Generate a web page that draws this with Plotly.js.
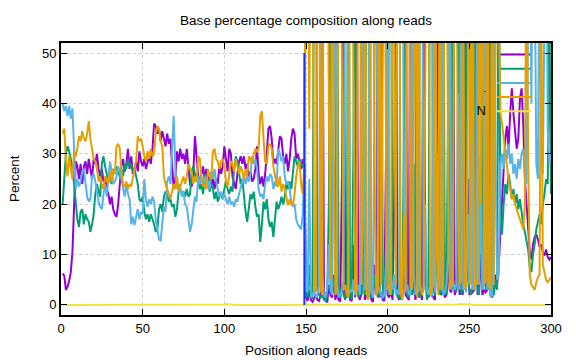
<!DOCTYPE html>
<html><head><meta charset="utf-8">
<script src="https://cdn.plot.ly/plotly-3.0.1.min.js"></script>
<style>html,body{margin:0;padding:0;background:#fff}#chart{width:576px;height:360px}</style>
</head><body><div id="chart"></div>
<script>
const seriesNames = ['A', 'C', 'G', 'T', 'N'];
const seriesColors = ['#9400d3', '#009e73', '#56b4e9', '#e69f00', '#f0e442'];

const A = [
6.2,5.8,3.0,3.6,4.8,6.5,10.5,21,28.5,27.5,
25,28,24,27.5,28.5,26,29,27,25,29,
28,30,27,25.5,27,24.5,25,23,22,20,
21.5,19,18,17.5,20,24,27.5,29,26.5,28,
31,27,29.5,26,27,28.5,26.5,30.5,28.5,27.5,
29,27,28.5,29.5,28,31,36,35.5,34,35,
32.5,34.5,33,31.5,34,32,33,27,23,25,
30.5,28.5,31,29,30,28,31,27.5,24,23.5,
26,33.5,29.5,25.5,24.5,26,27.5,25,27,24.5,
26,23.5,25.5,23,25,24,28,26,27.5,31.5,
29,26.5,31,30,25.5,24,23,26,28.5,29.5,
28,29.5,27,28,25.5,26.5,24.5,25,27,31.5,
26,24,25.5,23.5,26,30,35,35.5,33,28,
29,28,30.5,33.5,33,29.5,28,30,26.5,29,
33,35,34,29,30,28.5,27,29,27.5,
1.5,0.8,3,1,0.6,1.5,2,1,0.8,2,
80,3,1,0.5,4,2,1.5,6,1,2.5,
1,0.7,25,88,2,1.5,3,1,0.8,12,
1.5,75,2,1,2.5,18,1,2,1.5,3,
1,0.6,8,2,85,1.5,2.5,1,0.8,30,
2,1.5,3,1,20,82,2,1,3,1.5,
10,2,1.5,1,86,2,5,1,2.5,1.5,
3,1,80,12,2,1.5,3,2,1.5,1,
22,84,2.5,2,3,1.5,2,8,3,2.5,
78,2,3,15,2,3,2,82,3,25,
2,3,2.5,3,76,2,3,10,2,3,
2.5,3,70,2,1.5,3,6,4,8,15,
21,28,33,35.5,31,38,43,38,34,31,
33,41,43,36,25,20,14,10.5,9,12,
13.5,14,13,11.5,12,10.5,9.8,11,9.5,9,9.5
];

const C = [
20,26,30,31.5,30.5,29,27,24,21,17,
15.5,18.5,19,16,18,17,16.5,14.5,16,18,
22,24,22.5,21.5,28,29.5,27.5,26,24.5,25.5,
24,27,26,27.5,26.5,25.5,27,25.5,28,27,
29,27.5,28,26.5,27,25.5,24,21,20.5,21.5,
18.5,17,18,16.5,18,17,16,14.5,15,19,
20,18.5,21.5,22.5,22,20.5,21,19.5,20,17.5,
19,22.5,23,22,22.5,21.5,23,21.5,22,26.5,
27.5,26,24.5,25.5,23,24,22,26,23.5,25,
22.5,24,23,21,22.5,20.5,21.5,22,21,23,
24.5,23,22,23.5,22.5,27,29.5,28.5,26,24,
25,21,18.5,16.5,19,22,21,22.5,19.5,17.5,
18,12.5,16,20.5,19,21,17,15.5,16.5,13.5,
17,20.5,19,20,21.5,20,21.5,24,23,24.5,
23,26.5,29.5,28.5,27.5,29,28,27.5,28,
2,1.5,8,2,1.2,88,94,3,2,1.5,
2,1,0.8,2,20,90,3,5,2.5,86,
2,1.5,4,2,1,3,90,2,1,30,
92,4,1.5,3,2,10,2,86,95,2,
1.5,2,6,3,1.5,2,88,3,1.5,12,
2.5,90,84,2,5,3,1.5,2,1,3,
35,92,2,1.5,3,2,28,3,90,2,
1.5,2.5,4,8,1,2.5,88,93,3,2,
15,3,2,4,87,3,2,40,4,89,
3,4,2.5,10,90,2,4,3,90,6,
3,2,3.5,88,4,3,2,30,3,85,
3,4,3,88,3,2,5,3,80,18,
14,20,24,22,26,24,21,23,20,22,
19,21,18,16,14.5,13,11,7.5,6.5,10,
12,15,16.5,18,16,20,22,25,24,60,22
];

const G = [
40,38.5,39.5,37.5,39.5,37,39,29,23,25,
23.5,24.5,26.5,27,24,21.5,20.5,21,25.5,26,
24.5,22,20.5,19.5,19,22,24,21.5,24.5,28.5,
26.5,24,24.5,25.5,27.5,26.5,25,23,21.5,24,
22,21,16,17.5,15.8,17.5,19,17,18.5,18,
25,21,19.5,21,20,21.5,20.5,17,14.5,13,
12.8,17,19.5,18.5,24.5,25.5,24,31,37.5,27,
23,24,23.5,21.5,22.5,20,19.5,17,14.5,16,
19.5,21.5,20.5,25.5,24,25.5,24,25.5,23,24.5,
23,26.5,25,27,24.5,23,21.5,22.5,21,22,
21,20,21.5,20,20.5,19.5,21,20.5,22,23.5,
24.5,25.5,24,25.5,24.5,26,29.5,28,29,27,
23,21.5,22,21,24,25.5,24.5,26,25.5,23,
24.5,23.5,31,30,28.5,29.5,25.5,24,24.5,23,
20.5,19.5,20,17,16,15.5,15,18,27,
3,2.5,25,1.5,2,3,1.5,2,4,92,
6,2,1.5,3,12,3,2,38,94,4,
1.5,2,3,5,91,84,2,3,2.5,5,
2,3,4,2,88,35,3,4,2,90,
2.5,1.5,40,92,4,3,2,1.5,2,8,
93,2,5,3,6,2,3,2,88,95,
15,3,4,2,2.5,94,6,2,3,2.5,
89,96,3,20,3,2,4,1.5,90,2.5,
30,4,3,91,2,2.5,4,10,92,3,
5,3,4,42,3,88,3,4,2.5,18,
4,91,3,4,3,93,4,25,3,4,
90,3,5,1.5,2,85,30,5,6,28,
30,27,31,29,32,28,30,26,28,25,
29,27,30,31,28,24,60,85,40,90,
70,28,25,75,30,26,80,90,35,28,30
];

const T = [
34,35,29,25.5,29.5,27,25,30.5,29.5,31,
33.5,32.5,34.5,33,32.5,34,36.5,33,30.5,29,
28.5,27,24.5,25.5,24,23,25.5,25,24,26.5,
24.5,27,26,31.5,32,31,26.5,24,23.5,24.5,
23,24,23.5,25.5,27,28.5,33.5,32.5,33,31.5,
29.5,28.5,30.5,29,31,29.5,30,34,35.5,35,
32.5,31.5,25.5,24,23,22,21,22.5,24,23,
25.5,22.5,23.5,24.5,25.5,24,25.5,28,27,26.5,
24,25.5,24.5,29.5,29,25,23.5,24,23,27,
25.5,25,30.5,31,29,28.5,27,28.5,29,27.5,
24.5,23.5,26,28.5,28,26.5,29,27.5,26,27.5,
26.5,25,27,25.5,29.5,29,28,30,31,30.5,
31,37.5,38.5,33,28.5,28,31.5,32,31,27.5,
25.5,24,23.5,25.5,22.5,24,23,21,19.8,21,
20,19.8,22,25.5,27.5,28.5,24,22,28,
90,95,35,92,96,4,2.5,90,85,3,
2,95,97,88,40,5,93,30,2,3,
95,90,42,3,4,2,1.5,96,92,36,
3,2,94,97,4,28,93,2.5,1,3,
95,91,22,2,3,96,4,94,90,33,
3,4,2,95,45,4,96,93,2.5,1,
18,2.5,95,90,4,3,38,97,1.5,92,
4,2,3,44,95,91,2,3,4,96,
12,2,94,3,4,95,90,26,3,5,
4,96,92,20,4,5,95,3,4,38,
94,4,96,3,5,4,92,20,95,4,
5,94,4,3,92,4,45,95,60,38,
36,33,30,27,25,23,21,22,20,19,
18,17,16,15,20,80,30,6,4,3.5,
3,4.5,5.5,6,70,8,6.5,5,4.5,5,5.5
];

const N = [
0,0,0,0,0,0,0,0,0,0, 0,0,0,0,0,0,0,0,0,0,
0,0,0,0,0,0,0,0,0,0, 0,0,0,0,0,0,0,0,0,0,
0,0,0,0,0,0,0,0,0,0, 0,0,0,0,0,0,0,0,0,0,
0,0,0,0,0,0,0,0,0,0, 0,0,0,0,0,0,0,0,0,0,
0,0,0,0,0,0,0,0,0,0, 0,0,0,0,0,0,0,0,0,0.1,
0.2,0.2,0.2,0.1,0.1,0,0,0,0,0, 0,0,0,0,0,0,0,0,0,0,
0,0,0,0,0,0,0,0,0,0, 0,0,0,0,0,0,0,0,0,0,
0,0,0,0,0,0,0,0,0,0, 0,0,0,0,0,0,0,0,0,0,
0,0,0,0,0,0,0,0,0,0, 0,0,0,0,0,0,0,0,0,0,
0,0,0,0,0,0,0,0,0,0, 0,0,0,0,0,0,0,0,0,0,
0,0,0,0,0,0,0,0,0,0, 0,0,0,0,0,0,0,0,0,0,
0,0,0,0,0,0,0,0,0,0, 0,0,0,0,0,0,0,0,0,0,
0,0,0.1,0.2,0.2,0.2,0.2,0.1,0.2,0.2, 0.1,0,0,0,0,0,0,0,0,0,
0,0,0,0,0,0,0,0,0,0, 0,0,0,0,0,0,0,0,0,0,
0,0,0,0,0,0,0,0,0,0, 0,0,0,0,0,0,0,0,0,0
];

const boundaryPos = 149;   // vertical marker seen in the chart
const boundaryTop = 50;

const xTicks = [0, 50, 100, 150, 200, 250, 300];
const yTicks = [0, 10, 20, 30, 40, 50];

const allSeries = [A, C, G, T, N];
const positions = A.map((_, i) => i + 1);

const W = 576, H = 360;
const M = {l: 61, r: 25, t: 43, b: 45};
const X_RANGE = [0, 300], Y_RANGE = [-2, 52];
const plotW = W - M.l - M.r, plotH = H - M.t - M.b;
const pxToX = px => X_RANGE[0] + (px - M.l) / plotW * (X_RANGE[1] - X_RANGE[0]);
const pyToY = py => Y_RANGE[1] - (py - M.t) / plotH * (Y_RANGE[1] - Y_RANGE[0]);

const FONT = 'Liberation Sans, Arial, sans-serif';
const traces = [];
seriesNames.forEach((name, i) => {
  const ky = pyToY(54.5 + i * 14.2);
  traces.push({
    x: [pxToX(486)], y: [ky], mode: 'text', text: [name], textposition: 'middle left',
    textfont: {family: FONT, size: 13, color: '#000'}, showlegend: false, hoverinfo: 'skip', cliponaxis: false
  });
  traces.push({
    x: [pxToX(497), pxToX(531)], y: [ky, ky], mode: 'lines',
    line: {color: seriesColors[i], width: 2}, showlegend: false, hoverinfo: 'skip'
  });
  traces.push({
    x: positions, y: allSeries[i], mode: 'lines', name: name,
    line: {color: seriesColors[i], width: 2}, showlegend: false
  });
});

const axisCommon = {
  showline: true, linecolor: '#000', linewidth: 2, mirror: 'ticks',
  ticks: 'inside', ticklen: 6, tickwidth: 1, tickcolor: '#000',
  showgrid: true, gridcolor: '#cfcfcf', griddash: 'dot', gridwidth: 1,
  zeroline: false, tickfont: {family: FONT, size: 13, color: '#000'}
};

const layout = {
  width: W, height: H, margin: M, showlegend: false,
  paper_bgcolor: '#fff', plot_bgcolor: '#fff',
  title: {text: 'Base percentage composition along reads', font: {family: FONT, size: 13.5, color: '#000'},
          x: 0.5, xref: 'paper', y: 1 - 20 / H, yref: 'container', yanchor: 'middle'},
  xaxis: Object.assign({}, axisCommon, {range: X_RANGE, tickvals: xTicks, title: {text: ''}}),
  yaxis: Object.assign({}, axisCommon, {range: Y_RANGE, tickvals: yTicks, title: {text: ''}}),
  annotations: [
    {text: 'Position along reads', xref: 'paper', yref: 'paper', x: 0.5, y: -(350 - (H - M.b)) / plotH,
     xanchor: 'center', yanchor: 'middle', showarrow: false, font: {family: FONT, size: 13.5, color: '#000'}},
    {text: 'Percent', xref: 'paper', yref: 'paper', x: (14 - M.l) / plotW, y: 0.5, textangle: -90,
     xanchor: 'center', yanchor: 'middle', showarrow: false, font: {family: FONT, size: 13.5, color: '#000'}}
  ],
  shapes: [
    {type: 'line', xref: 'x', yref: 'y', x0: boundaryPos, x1: boundaryPos, y0: 0, y1: boundaryTop,
     line: {color: '#1530ff', width: 2}}
  ]
};

Plotly.newPlot('chart', traces, layout, {displayModeBar: false, staticPlot: true});
</script>
</body></html>
